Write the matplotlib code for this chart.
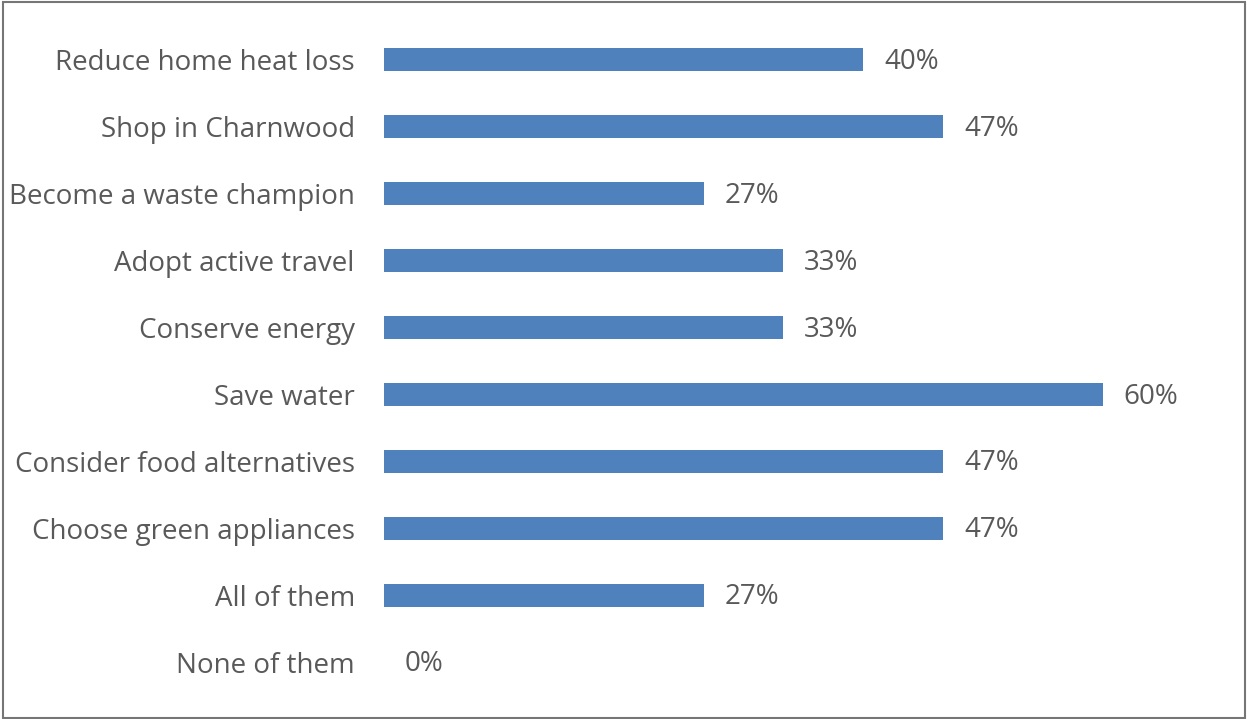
import matplotlib
matplotlib.use("Agg")
import matplotlib.pyplot as plt
from matplotlib.patches import Rectangle

categories = [
    "Reduce home heat loss",
    "Shop in Charnwood",
    "Become a waste champion",
    "Adopt active travel",
    "Conserve energy",
    "Save water",
    "Consider food alternatives",
    "Choose green appliances",
    "All of them",
    "None of them",
]
values = [40.0, 46.7, 26.7, 33.3, 33.3, 60.0, 46.7, 46.7, 26.7, 0.0]
value_labels = ["40%", "47%", "27%", "33%", "33%", "60%", "47%", "47%", "27%", "0%"]

W, H, DPI = 1247, 719, 100
fig = plt.figure(figsize=(W / DPI, H / DPI), dpi=DPI)
fig.patch.set_facecolor("white")

font = "Open Sans"
txt_color = "#595959"
bar_color = "#4F81BD"
fs = 20

ax = fig.add_axes([384 / W, 1 - 695.5 / H, 838.6 / W, 669 / H])
y = list(range(len(categories)))
ax.barh(y, values, height=0.345, color=bar_color, linewidth=0)
ax.set_xlim(0, 70)
ax.set_ylim(len(categories) - 0.5, -0.5)
ax.set_yticks(y)
ax.set_yticklabels(categories, fontsize=fs, color=txt_color, family=font)
ax.tick_params(axis="y", length=0, pad=21)
ax.set_xticks([])
for s in ax.spines.values():
    s.set_visible(False)

for yi, v, lab in zip(y, values, value_labels):
    ax.annotate(lab, (v, yi), xytext=(15, -1.5), textcoords="offset points",
                ha="left", va="center", fontsize=fs, color=txt_color, family=font)

# outer border
fig.patches.append(Rectangle((2.5 / W, 1.5 / H), (W - 4.5) / W, (H - 3) / H,
                             transform=fig.transFigure, fill=False,
                             edgecolor="#767676", linewidth=1.5))

fig.savefig("out.png", dpi=DPI)
